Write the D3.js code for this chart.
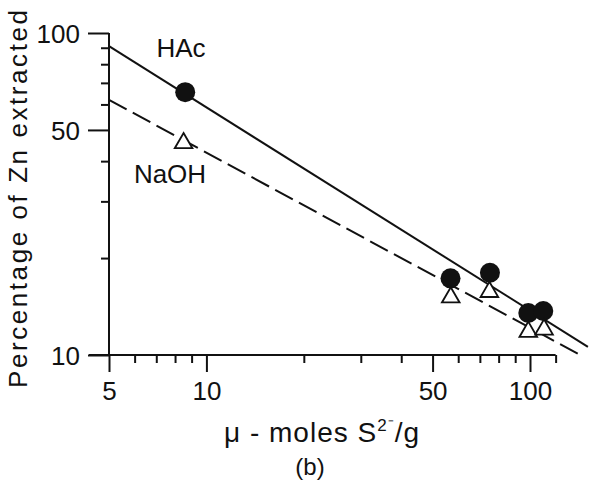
<!DOCTYPE html>
<html><head><meta charset="utf-8">
<script src="https://cdn.jsdelivr.net/npm/d3@7"></script>
<style>
body{margin:0;background:#fff;}
text{font-family:"Liberation Sans",Arial,sans-serif;fill:#111;}
</style></head>
<body><svg id="c" width="593" height="484"></svg>
<script>
// Data
const hacX = [8.6, 56.8, 75.2, 98.8, 109.9];
const hacY = [65.5, 17.3, 18.0, 13.5, 13.7];
const naohX = [8.5, 56.9, 74.9, 98.8, 110.5];
const naohY = [45.5, 15.1, 15.7, 11.8, 12.0];
const hacFit = [[5, 91], [151, 10.6]];
const naohFit = [[5, 62], [143, 10]];
const xMajor = [5, 10, 50, 100];
const xMinor = [6, 7, 8, 9, 20, 30, 40, 60, 70, 80, 90, 120];
const yMajor = [10, 50, 100];
const yMinor = [20, 30, 40, 60, 70, 80, 90];
const xAxisEnd = 120;

const svg = d3.select("#c");
const x = d3.scaleLog().domain([5, 100]).range([109, 530]);
const y = d3.scaleLog().domain([10, 100]).range([355, 33]);
const ink = "#111";

// X axis
const gx = svg.append("g").attr("transform", `translate(0,${y(10)})`);
gx.append("g").call(d3.axisBottom(x).tickValues(xMinor).tickSize(8).tickFormat(""))
  .call(g => g.select(".domain").remove());
gx.append("g").call(d3.axisBottom(x).tickValues(xMajor).tickSize(17).tickPadding(8).tickFormat(d3.format("d")))
  .call(g => g.select(".domain").remove());
gx.append("line").attr("x1", x(5) - 20).attr("x2", x(xAxisEnd)).attr("y1", 0).attr("y2", 0);
gx.selectAll("line").attr("stroke", ink).attr("stroke-width", 2);
gx.selectAll("text").attr("font-size", 26).attr("fill", ink).attr("dy", "0.75em");

// Y axis
const gy = svg.append("g").attr("transform", `translate(${x(5)},0)`);
gy.append("g").call(d3.axisLeft(y).tickValues(yMinor).tickSize(8).tickFormat(""))
  .call(g => g.select(".domain").remove());
gy.append("g").call(d3.axisLeft(y).tickValues(yMajor).tickSize(21).tickPadding(8).tickFormat(d3.format("d")))
  .call(g => g.select(".domain").remove());
gy.append("line").attr("x1", 0).attr("x2", 0).attr("y1", y(100)).attr("y2", y(10));
gy.selectAll("line").attr("stroke", ink).attr("stroke-width", 2);
gy.selectAll("text").attr("font-size", 26).attr("fill", ink).attr("dy", "0.36em");

// Fit lines
const line = d3.line().x(d => x(d[0])).y(d => y(d[1]));
svg.append("path").attr("d", line(hacFit)).attr("fill", "none").attr("stroke", ink).attr("stroke-width", 2);
svg.append("path").attr("d", line(naohFit)).attr("fill", "none").attr("stroke", ink).attr("stroke-width", 2)
  .attr("stroke-dasharray", "20,7");

// Points
svg.selectAll("circle.hac").data(hacX.map((v, i) => [v, hacY[i]])).join("circle")
  .attr("class", "hac").attr("cx", d => x(d[0])).attr("cy", d => y(d[1])).attr("r", 10).attr("fill", ink);
const tri = d3.symbol().type(d3.symbolTriangle).size(135);
svg.selectAll("path.naoh").data(naohX.map((v, i) => [v, naohY[i]])).join("path")
  .attr("class", "naoh").attr("d", tri)
  .attr("transform", d => `translate(${x(d[0])},${y(d[1])})`)
  .attr("fill", "#fff").attr("stroke", ink).attr("stroke-width", 1.8);

// Labels
svg.append("text").attr("x", 181).attr("y", 57).attr("text-anchor", "middle").attr("font-size", 26).text("HAc");
svg.append("text").attr("x", 170).attr("y", 183).attr("text-anchor", "middle").attr("font-size", 26).text("NaOH");

svg.append("text").attr("transform", "translate(27,199) rotate(-90)")
  .attr("text-anchor", "middle").attr("font-size", 26)
  .attr("textLength", 378).attr("lengthAdjust", "spacing")
  .text("Percentage of Zn extracted");

const xt = svg.append("text").attr("x", 322).attr("y", 442).attr("text-anchor", "middle")
  .attr("font-size", 28).attr("letter-spacing", "1px");
xt.append("tspan").text("\u03bc - moles  S");
xt.append("tspan").attr("font-size", 17).attr("dy", -11).text("2\u207b");
xt.append("tspan").attr("dy", 11).text("/g");

svg.append("text").attr("x", 310).attr("y", 475).attr("text-anchor", "middle").attr("font-size", 24).text("(b)");
</script></body></html>
